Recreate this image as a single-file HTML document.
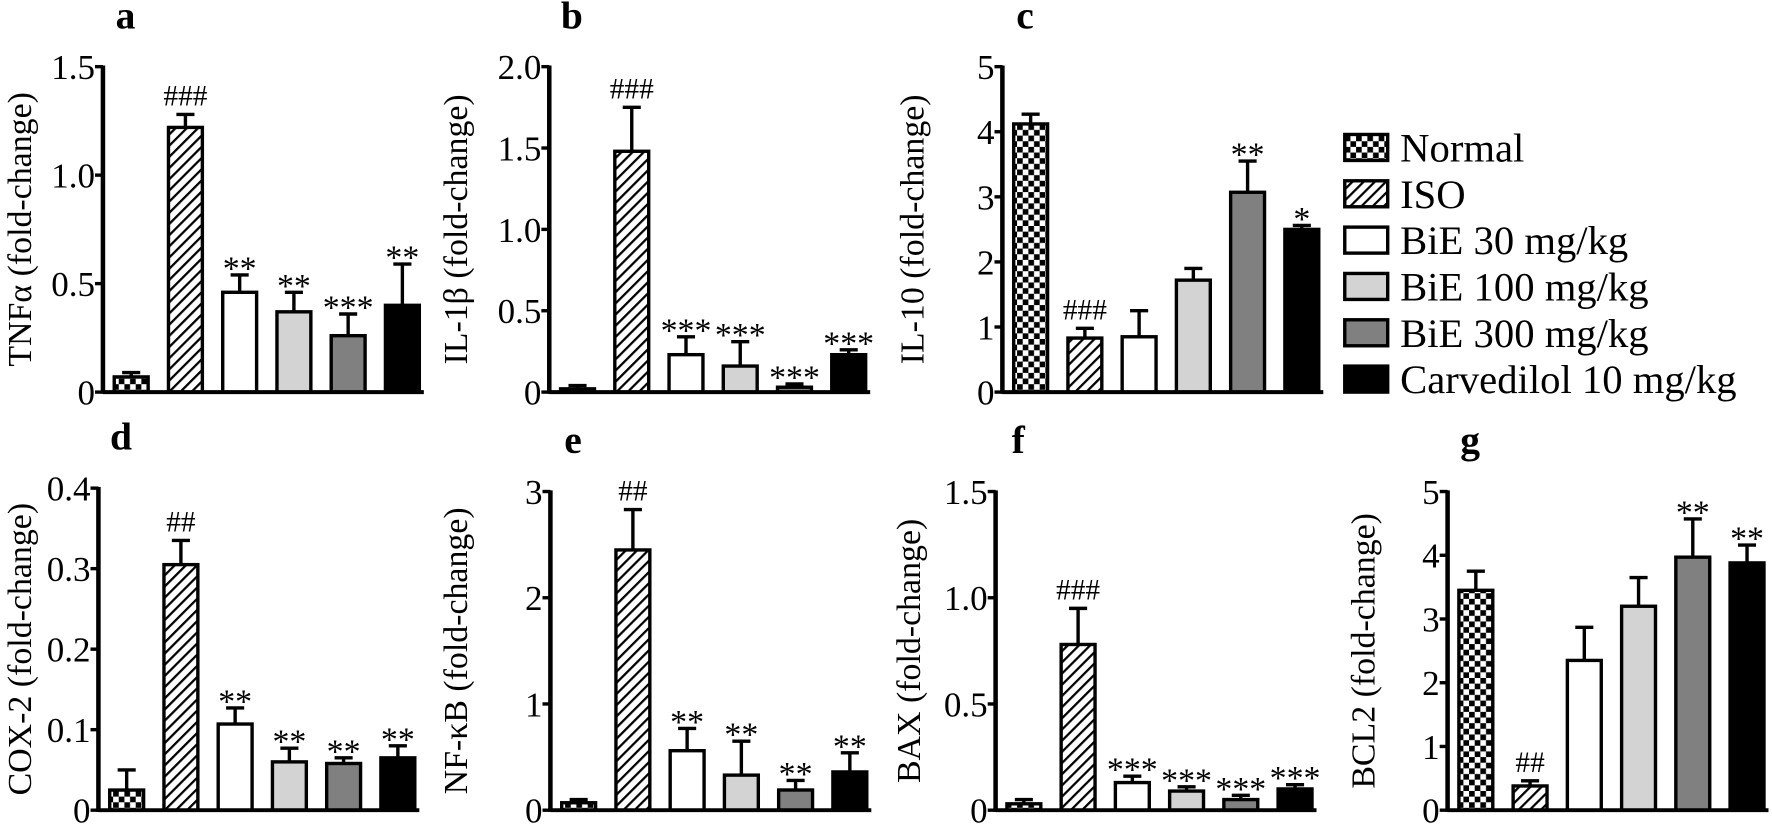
<!DOCTYPE html>
<html><head><meta charset="utf-8"><style>
body{margin:0;background:#fff}
svg text{font-family:"Liberation Serif",serif;fill:#000}
</style></head><body>
<svg id="c" width="1772" height="826" viewBox="0 0 1568 731" xmlns="http://www.w3.org/2000/svg">
<defs>
<pattern id="chk" width="10" height="10" patternUnits="userSpaceOnUse"><rect width="10" height="10" fill="#fff"/><rect width="5" height="5" fill="#000"/><rect x="5" y="5" width="5" height="5" fill="#000"/></pattern>
<pattern id="hat" width="7" height="7" patternUnits="userSpaceOnUse" patternTransform="rotate(45)"><rect width="7" height="7" fill="#fff"/><rect width="2" height="7" fill="#000"/></pattern>
</defs>
</svg>
<script>
const groups=["Normal","ISO","BiE 30 mg/kg","BiE 100 mg/kg","BiE 300 mg/kg","Carvedilol 10 mg/kg"];
const fills=["url(#chk)","url(#hat)","#fff","#d3d3d3","#808080","#000"];
const valsA=[0.07,1.22,0.46,0.37,0.26,0.40], errA=[0.02,0.06,0.08,0.09,0.10,0.19];
const valsB=[0.02,1.48,0.23,0.16,0.03,0.23], errB=[0.02,0.27,0.11,0.15,0.02,0.03];
const valsC=[4.12,0.83,0.85,1.72,3.07,2.50], errC=[0.15,0.15,0.40,0.18,0.48,0.06];
const valsD=[0.025,0.305,0.107,0.06,0.058,0.065], errD=[0.025,0.03,0.02,0.017,0.007,0.015];
const valsE=[0.07,2.45,0.56,0.33,0.19,0.36], errE=[0.03,0.38,0.21,0.32,0.09,0.18];
const valsF=[0.03,0.78,0.13,0.09,0.05,0.10], errF=[0.02,0.17,0.03,0.02,0.02,0.02];
const valsG=[3.45,0.38,2.35,3.2,3.97,3.88], errG=[0.3,0.08,0.52,0.45,0.6,0.28];
const ticksA=["0","0.5","1.0","1.5"], ticksB=["0","0.5","1.0","1.5","2.0"], ticksC=["0","1","2","3","4","5"];
const ticksD=["0","0.1","0.2","0.3","0.4"], ticksE=["0","1","2","3"], ticksF=["0","0.5","1.0","1.5"], ticksG=["0","1","2","3","4","5"];
const annA=["","###","**","**","***","**"], annB=["","###","***","***","***","***"], annC=["","###","","","**","*"];
const annD=["","##","**","**","**","**"], annE=["","##","**","**","**","**"], annF=["","###","***","***","***","***"], annG=["","##","","","**","**"];
const svg=document.getElementById('c');
const NS="http://www.w3.org/2000/svg";
function mk(t,a,p){const e=document.createElementNS(NS,t);for(const k in a)e.setAttribute(k,a[k]);(p||svg).appendChild(e);return e;}
const panels=[
 {l:"a",ax:91,top:59,bot:347,vals:valsA,err:errA,ticks:ticksA,max:1.5,ann:annA,yl:"TNFα (fold-change)",ylx:18},
 {l:"b",ax:486,top:59,bot:347,vals:valsB,err:errB,ticks:ticksB,max:2.0,ann:annB,yl:"IL-1β (fold-change)",ylx:404},
 {l:"c",ax:887,top:59,bot:347,vals:valsC,err:errC,ticks:ticksC,max:5,ann:annC,yl:"IL-10 (fold-change)",ylx:808},
 {l:"d",ax:87,top:432,bot:717,vals:valsD,err:errD,ticks:ticksD,max:0.4,ann:annD,yl:"COX-2 (fold-change)",ylx:18},
 {l:"e",ax:487,top:435,bot:717,vals:valsE,err:errE,ticks:ticksE,max:3,ann:annE,yl:"NF-κB (fold-change)",ylx:404},
 {l:"f",ax:881,top:435,bot:717,vals:valsF,err:errF,ticks:ticksF,max:1.5,ann:annF,yl:"BAX (fold-change)",ylx:805},
 {l:"g",ax:1281,top:435,bot:717,vals:valsG,err:errG,ticks:ticksG,max:5,ann:annG,yl:"BCL2 (fold-change)",ylx:1207}
];
panels.forEach(p=>{
 const g=mk('g',{});
 
 
 const y=v=>p.bot-(v/p.max)*(p.bot-p.top);
 const bx=i=>p.ax+25+i*48;
 const t=mk('text',{x:p.ax+20,y:p.top-34,'font-size':35,'font-weight':'bold','text-anchor':'middle'},g);t.textContent=p.l;
 
 const cy=(p.top+p.bot)/2;
 const yl=mk('text',{x:p.ylx,y:cy,'font-size':30,'text-anchor':'middle','dominant-baseline':'central',transform:`rotate(-90 ${p.ylx} ${cy})`},g);yl.textContent=p.yl;
 
 p.vals.forEach((v,i)=>{
  const x=bx(i),w=30,yt=y(v),ye=y(v+p.err[i]);
  mk('line',{x1:x,x2:x,y1:yt,y2:ye,stroke:'#000','stroke-width':3},g);
  mk('line',{x1:x-8,x2:x+8,y1:ye,y2:ye,stroke:'#000','stroke-width':3},g);
  const r=mk('rect',{x:x-w/2,y:yt,width:w,height:p.bot-yt,fill:fills[i],stroke:'#000','stroke-width':3},g);
  
  if(p.ann[i]){const a=mk('text',{x:x,y:ye-8+(p.ann[i][0]=='*'?12:0),'font-size':p.ann[i][0]=='*'?30:26,'text-anchor':'middle'},g);a.textContent=p.ann[i];
   }
 });
 mk('line',{x1:p.ax,x2:p.ax,y1:p.top-1,y2:p.bot+1.5,stroke:'#000','stroke-width':4},g);
 mk('line',{x1:p.ax,x2:bx(5)+19,y1:p.bot,y2:p.bot,stroke:'#000','stroke-width':3.5},g);
 const n=p.ticks.length;
 p.ticks.forEach((tk,k)=>{
  const v=p.max*k/(n-1),yy=y(v);
  mk('line',{x1:p.ax-7,x2:p.ax,y1:yy,y2:yy,stroke:'#000','stroke-width':3},g);
  const tt=mk('text',{x:p.ax-7,y:yy+11,'font-size':31,'text-anchor':'end'},g);tt.textContent=tk;
  
 });
});
const lg=mk('g',{});


groups.forEach((n,i)=>{
 const yy=131+i*41;
 mk('rect',{x:1190,y:yy-12,width:38,height:23,fill:fills[i],stroke:'#000','stroke-width':3},lg);
 const t=mk('text',{x:1239,y:yy+12,'font-size':36},lg);t.textContent=n;
 
});
</script>
</body></html>
